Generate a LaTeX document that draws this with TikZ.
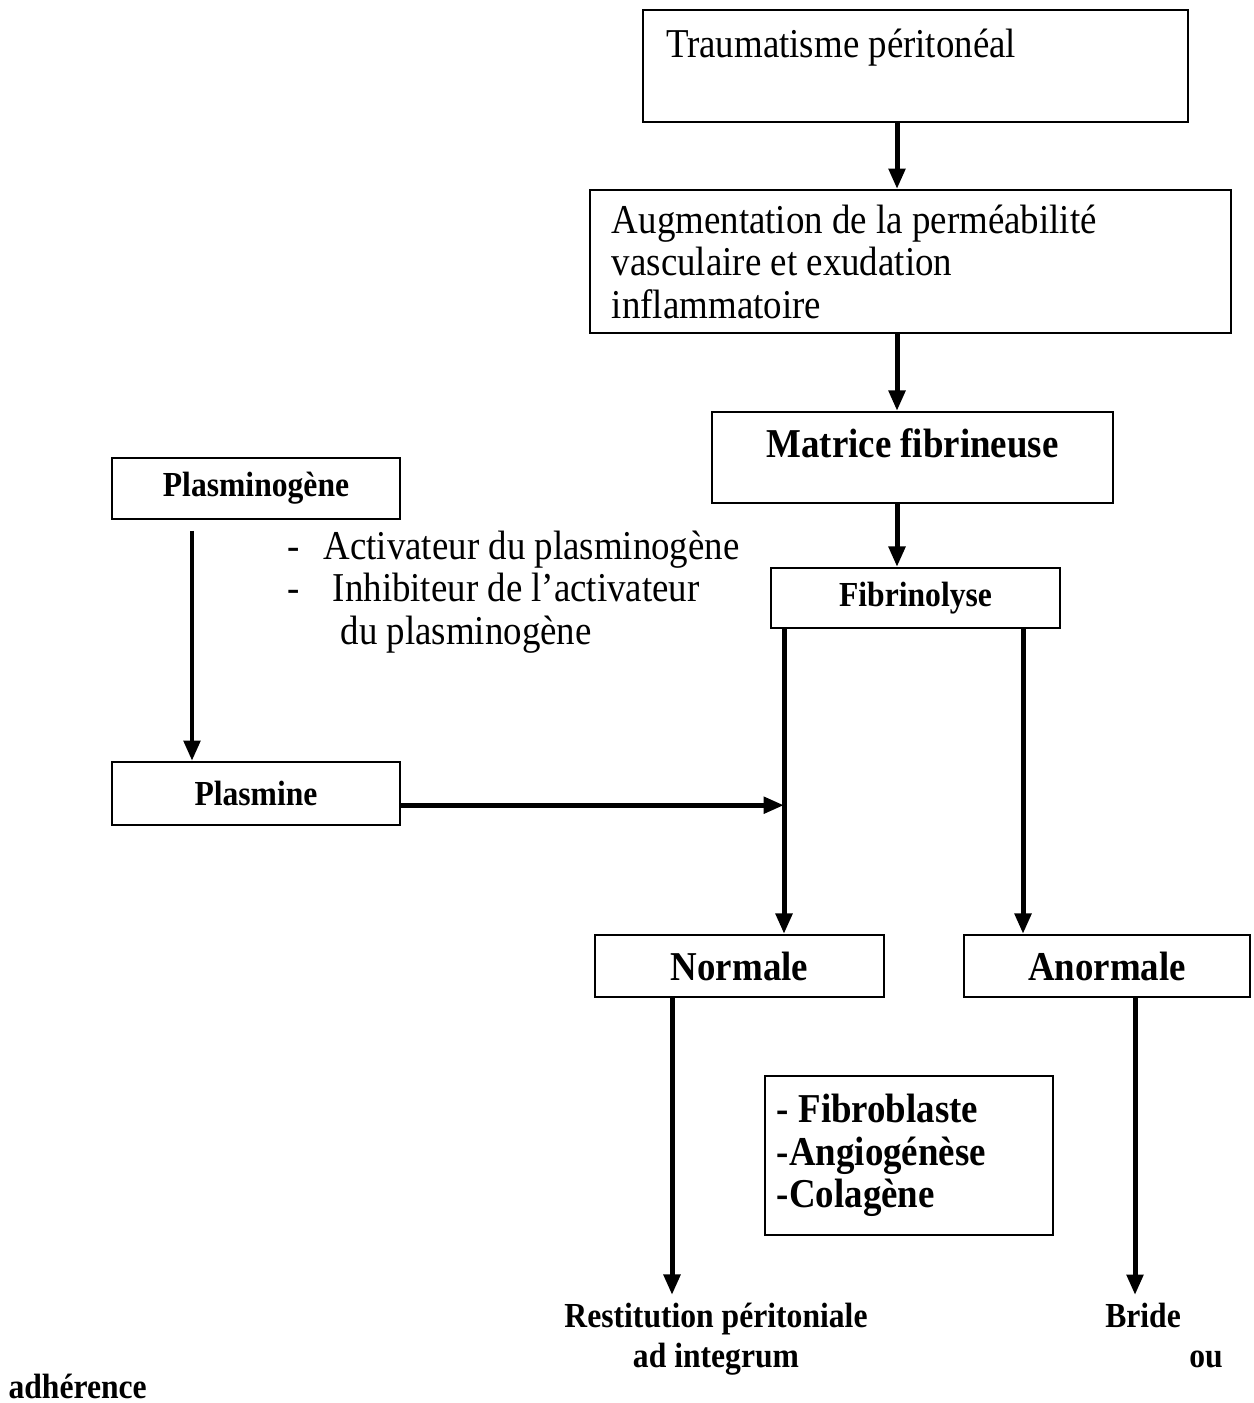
\documentclass[tikz,border=0pt]{standalone}
\usepackage{fontspec}
\setmainfont{Liberation Serif}[FakeStretch=0.9]
\usetikzlibrary{arrows.meta}

\newcommand{\grand}{\fontsize{14}{14.5}\selectfont}
\newcommand{\petit}{\fontsize{12}{13.7}\selectfont}
\newcommand{\tiret}{\makebox[12.3pt][l]{-}}

\tikzset{
  boite/.style={draw, line width=0.7pt, inner sep=0pt},
  fleche/.style={line width=1.7pt, -{Triangle[length=7pt,width=5.5pt]}},
}

\begin{document}
\begin{tikzpicture}[x=0.3415pt, y=-0.3415pt]
\useasboundingbox (0,0) rectangle (1253,1403);

%Declare nodes.
\node[boite, text width=170.4pt, inner xsep=7.85pt, align=flush left, text height=16.4pt, text depth=21.9pt, font=\grand] (trauma) at (915.5,66) {Traumatisme péritonéal};
\node[boite, text width=203.9pt, inner xsep=7.5pt, align=flush left, minimum height=48.8pt, font=\grand] (perm) at (910.5,261.5) {Augmentation de la perméabilité\\ vasculaire et exudation\\ inflammatoire};
\node[boite, minimum width=136.9pt, text height=15.4pt, text depth=15.7pt, font=\grand\bfseries] (matrice) at (912.5,457.5) {Matrice fibrineuse};
\node[boite, minimum width=98.7pt, minimum height=20.5pt, font=\petit\bfseries] (fib) at (915.5,598) {Fibrinolyse};
\node[boite, minimum width=98.4pt, minimum height=20.8pt, font=\petit\bfseries] (pg) at (256,488.5) {Plasminogène};
\node[boite, minimum width=98.4pt, minimum height=21.5pt, font=\petit\bfseries] (pla) at (256,793.5) {Plasmine};
\node[anchor=west, inner sep=0pt, align=left, font=\grand] (enz) at (287,592) {\tiret Activateur du plasminogène\\ \tiret\ Inhibiteur de l’activateur\\ \hspace*{18.1pt}du plasminogène};
\node[boite, minimum width=98.7pt, minimum height=21.2pt, font=\grand\bfseries] (norm) at (739.5,966) {Normale};
\node[boite, minimum width=97.7pt, minimum height=21.2pt, font=\grand\bfseries] (anorm) at (1107,966) {Anormale};
\node[boite, text width=90.2pt, inner xsep=4.1pt, align=flush left, minimum height=54.3pt, font=\grand\bfseries] (fibro) at (909,1155.5) {- Fibroblaste\\ -Angiogénèse\\ -Colagène};
\node[anchor=north, align=center, inner sep=0pt, font=\petit\bfseries] (rest) at (716,1302) {Restitution péritoniale\\ ad integrum};
\node[anchor=base, inner sep=0pt, font=\petit\bfseries] (bride) at (1143,1327) {Bride};
\node[anchor=base, inner sep=0pt, font=\petit\bfseries] (ou) at (1206,1367) {ou};
\node[anchor=base west, inner sep=0pt, font=\petit\bfseries] (adh) at (8,1398) {adhérence};

%Setup edges.
\coordinate (axe) at (897,0);
\coordinate (gauche) at (784,0);
\coordinate (droite) at (1023,0);
\coordinate (xpg) at (192,0);
\coordinate (xnorm) at (672,0);
\coordinate (xanorm) at (1135,0);

\draw[fleche] (trauma.south -| axe) -- (perm.north -| axe);
\draw[fleche] (perm.south -| axe) -- (matrice.north -| axe);
\draw[fleche] (matrice.south -| axe) -- (fib.north -| axe);
\draw[fleche] (pg.south -| xpg) ++(0,11) -- (pla.north -| xpg);
\draw[fleche] ([yshift=-4pt]pla.east) -- ([yshift=-4pt]pla.east -| gauche);
\draw[fleche] (fib.south -| gauche) -- (norm.north -| gauche);
\draw[fleche] (fib.south -| droite) -- (anorm.north -| droite);
\draw[fleche, shorten >=2.4pt] (norm.south -| xnorm) -- (rest.north -| xnorm);
\draw[fleche, shorten >=2.4pt] (anorm.south -| xanorm) -- (bride.north -| xanorm);

\end{tikzpicture}
\end{document}
